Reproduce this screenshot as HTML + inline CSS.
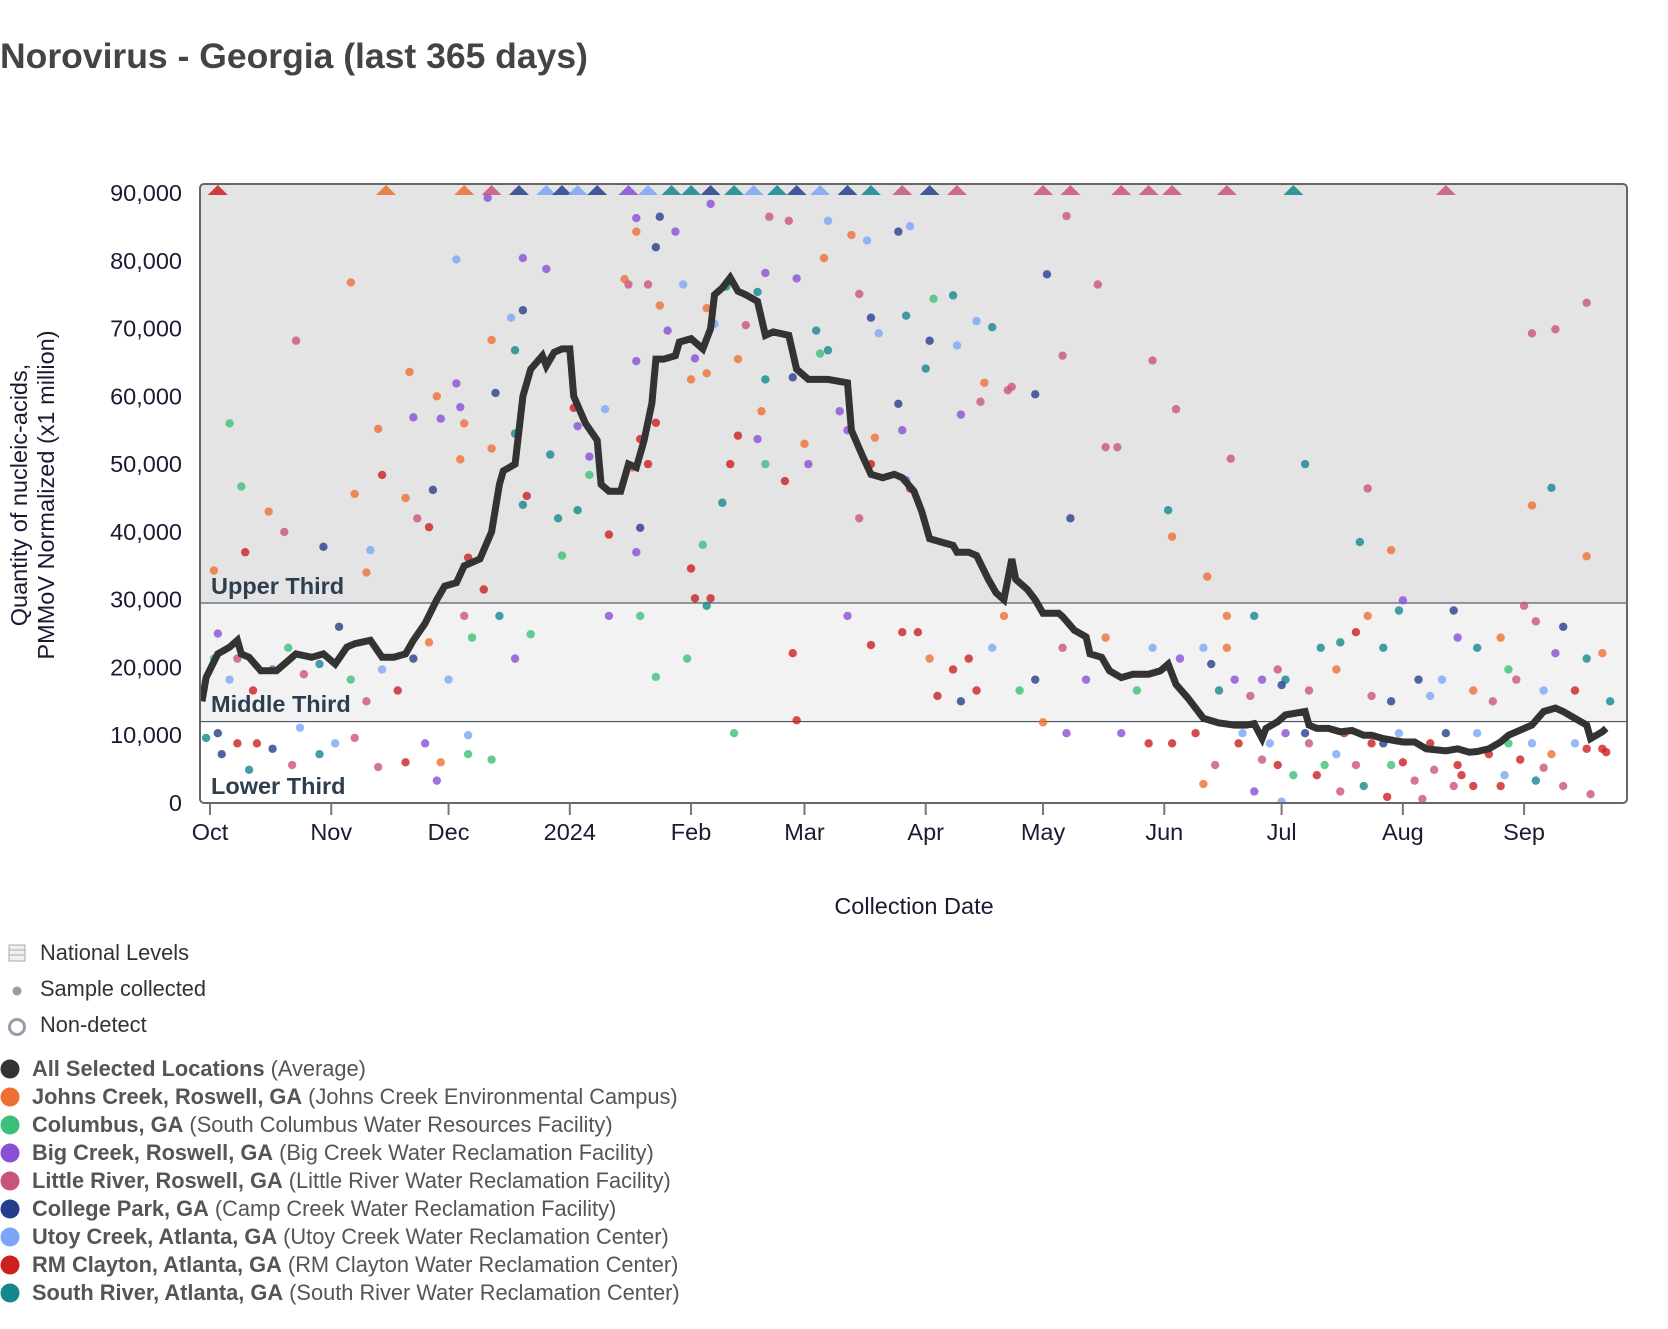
<!DOCTYPE html>
<html><head><meta charset="utf-8"><style>
body{margin:0;background:#fff;width:1668px;height:1324px;overflow:hidden;font-family:"Liberation Sans",sans-serif}
</style></head><body>
<svg id="chart" width="1668" height="1324" xmlns="http://www.w3.org/2000/svg" font-family="Liberation Sans, sans-serif">
<text x="0" y="68" font-size="35.5" font-weight="bold" fill="#444">Norovirus - Georgia (last 365 days)</text>
<g id="plot"></g>
<text transform="translate(27,495) rotate(-90)" font-size="23.5" fill="#1a1a33" text-anchor="middle"><tspan x="0" dy="0">Quantity of nucleic-acids,</tspan><tspan x="0" dy="27">PMMoV Normalized (x1 million)</tspan></text>
<text x="914" y="914" font-size="23.5" fill="#1a1a33" text-anchor="middle">Collection Date</text>
<g id="legend"></g>
</svg>
<script>
const NS='http://www.w3.org/2000/svg';
const siteNames=['Johns Creek, Roswell, GA','Columbus, GA','Big Creek, Roswell, GA','Little River, Roswell, GA','College Park, GA','Utoy Creek, Atlanta, GA','RM Clayton, Atlanta, GA','South River, Atlanta, GA'];
const siteFacilities=['Johns Creek Environmental Campus','South Columbus Water Resources Facility','Big Creek Water Reclamation Facility','Little River Water Reclamation Facility','Camp Creek Water Reclamation Facility','Utoy Creek Water Reclamation Center','RM Clayton Water Reclamation Center','South River Water Reclamation Center'];
const siteColors=['#ec6f34','#3cbf7a','#8a4fd6','#c9547a','#263f8c','#7ba6f7','#cc1f1f','#14878e'];
const yTicks=[0,10000,20000,30000,40000,50000,60000,70000,80000,90000];
const yTickLabels=['0','10,000','20,000','30,000','40,000','50,000','60,000','70,000','80,000','90,000'];
const xTickDays=[0,31,61,92,123,152,183,213,244,274,305,336];
const xTickLabels=['Oct','Nov','Dec','2024','Feb','Mar','Apr','May','Jun','Jul','Aug','Sep'];
const upperThreshold=29500, lowerThreshold=12000;
const avgDay=[-3,-1,2,5,7,8,10,13,17,20,22,26,29,32,35,37,41,44,47,50,52,55,58,60,63,65,67,69,72,74,75,78,80,82,85,86,88,90,92,93,96,99,100,102,105,107,109,111,113,114,116,119,120,123,126,128,129,131,133,135,137,140,142,144,148,150,153,156,158,163,164,167,169,172,175,177,180,182,184,187,190,191,194,196,199,201,203,205,206,209,211,213,217,218,221,224,225,228,230,233,236,240,243,245,247,250,252,254,258,262,265,267,269,270,273,275,280,281,283,286,289,292,295,297,300,305,308,311,316,319,322,324,327,330,332,336,338,341,344,346,349,352,353,356,357];
const avgVal=[15000,18500,22000,23000,24000,22000,21500,19500,19500,21000,22000,21500,22000,20500,23000,23500,24000,21500,21500,22000,24000,26500,30000,32000,32500,35000,35500,36000,40000,47000,49000,50000,60000,64000,66000,64500,66500,67000,67000,60000,56000,53500,47000,46000,46000,50000,49500,53500,59000,65500,65500,66000,68000,68500,67000,70000,75000,76000,77500,75500,75000,74000,69000,69500,69000,64000,62500,62500,62500,62000,55000,51000,48500,48000,48500,48000,46000,43000,39000,38500,38000,37000,37000,36500,33000,31000,30000,36000,33000,31500,30000,28000,28000,27500,25500,24500,22000,21500,19500,18500,19000,19000,19500,20500,17500,15500,14000,12500,11800,11500,11500,11700,9500,11000,12000,13000,13500,11500,11000,11000,10500,10700,10000,10000,9500,9000,9000,8000,7700,8000,7500,7600,8000,9000,10000,11000,11500,13500,14000,13500,12500,11500,9500,10500,11000];
const sampleDay=[5,8,1,2,9,22,15,19,29,36,43,44,37,40,41,51,52,50,58,57,59,56,53,63,64,64,65,66,63,71,73,72,72,80,77,80,78,78,80,81,86,93,94,97,94,101,109,109,112,106,107,109,115,114,115,119,121,128,127,124,127,129,132,135,137,140,142,143,148,150,157,158,164,168,169,171,166,155,158,156,149,142,141,140,135,133,131,123,117,114,112,110,108,97,87,89,90,102,109,110,123,124,128,126,142,152,153,147,161,163,166,169,170,176,177,178,179,176,185,184,183,178,179,190,191,196,200,198,197,192,204,211,205,214,219,227,218,229,232,241,247,261,280,296,294,302,305,338,344,352,352,343,338,245,246,255,220,
-1,2,3,7,10,12,16,21,23,28,32,37,43,50,55,59,66,72,66,58,
1,5,7,11,16,20,24,28,33,36,40,44,48,52,56,61,65,67,70,74,78,82,
102,110,114,122,127,134,150,149,163,169,177,181,184,186,190,192,194,196,200,203,207,211,213,218,219,224,229,233,237,240,241,246,248,252,254,257,258,260,
263,264,267,269,271,273,274,275,277,280,281,283,285,288,289,290,293,295,297,300,301,302,304,305,308,310,312,313,316,318,319,320,323,324,327,330,331,332,335,338,339,341,343,346,349,352,353,356,357,
262,266,269,273,275,281,284,288,289,293,296,297,300,302,304,309,312,315,318,319,323,324,328,330,332,334,336,339,341,344,346,349,352,356,358,254,256,260,267,274];
const sampleVal=[56000,46700,34300,25000,37000,68200,43000,40000,37800,76800,55200,48400,45600,34000,37300,63600,56900,45000,60000,46200,56700,40700,42000,80200,50700,58400,56000,36200,61900,89300,60500,52300,68300,80400,71600,72700,66800,54500,44000,45300,78800,58300,55600,51100,43200,58100,86300,84300,76500,77300,76500,65200,86500,82000,73400,84300,76500,88400,73000,65600,63400,70700,76200,65500,70500,75400,78200,86500,85900,77400,80400,85900,83800,83000,71600,69300,75100,69700,66800,66300,62800,62500,57800,53700,54200,50000,44300,62500,69700,56100,50000,53700,49500,48400,51400,42000,36500,39600,37000,40600,34600,30200,30200,38100,50000,53000,50000,47500,57800,55000,42000,50000,53900,58900,55000,71900,85100,84300,74400,68200,64100,47600,46400,74900,67500,71100,70200,62000,59200,57300,60900,60300,61400,78000,86600,76500,66000,52500,52500,65300,58100,50800,50000,46400,38500,37300,29900,69300,69900,73800,36400,46500,43900,43200,39300,33400,42000,
9600,10300,7200,8800,4900,8800,8000,5600,11100,7200,8800,9600,5300,6000,8800,6000,7200,6400,10000,3300,
21300,18200,21300,16600,19700,22900,19000,20500,26000,18200,15000,19700,16600,21300,23700,18200,27600,24400,31500,27600,21300,24900,
27600,27600,18600,21300,29100,10300,12200,22100,27600,23300,25200,25200,21300,15800,19700,15000,21300,16600,22900,27600,16600,18200,11900,22900,10300,18200,24400,10300,16600,8800,22900,8800,21300,10300,2800,5600,16600,22900,
8800,10300,1700,6400,8800,5600,200,10300,4100,10300,8800,4100,5600,7200,1700,10300,5600,2500,8800,8800,900,5600,10300,6000,3300,600,8800,4900,10300,2500,5600,4100,2500,10300,7200,2500,4100,8800,6400,8800,3300,5200,7200,2500,8800,8000,1300,8000,7500,
18200,15800,18200,19700,18200,16600,22900,19700,23700,25200,27600,15800,22900,15000,28400,18200,15800,18200,28400,24400,16600,22900,15000,24400,19700,18200,29100,26800,16600,22100,26000,16600,21300,22100,15000,22900,20500,27600,27600,17400];
const sampleSite=[1,1,0,2,6,3,0,3,4,0,0,6,0,0,5,0,2,0,0,4,2,6,3,5,0,2,0,6,2,2,4,0,0,2,5,4,7,7,7,6,2,6,2,2,7,5,2,0,3,0,3,2,4,4,0,2,5,2,0,2,0,5,7,0,3,7,2,3,3,2,0,5,0,5,4,5,3,7,7,1,4,7,0,2,6,6,7,0,2,6,6,6,0,1,7,7,1,6,2,4,6,6,6,1,1,0,2,6,2,2,3,6,0,4,2,7,5,4,1,4,7,2,6,7,5,5,7,0,3,2,3,4,3,4,3,3,3,3,3,3,3,3,7,3,7,0,2,3,3,3,0,7,0,7,0,0,4,
7,4,4,6,7,6,4,3,5,7,5,3,3,6,2,0,1,1,5,2,
1,5,3,6,2,1,3,7,4,1,3,5,6,4,0,5,3,1,6,7,2,1,
2,1,1,1,7,1,6,6,2,6,6,6,0,6,6,4,6,6,5,0,1,4,0,3,2,2,0,2,1,6,5,6,2,6,0,3,7,0,
6,5,2,3,5,6,5,2,1,4,3,6,1,5,3,6,3,7,6,4,6,1,5,6,3,3,6,3,4,3,6,6,6,5,6,6,5,1,6,5,7,3,0,3,5,6,3,6,6,
2,3,2,3,7,3,7,0,7,6,0,3,7,4,7,4,5,5,4,2,0,7,3,0,1,3,3,3,5,2,4,6,7,0,7,5,4,0,7,4];
const aboveDay=[2,45,65,72,79,86,90,94,99,107,112,118,123,128,134,139,145,150,156,163,169,177,184,191,213,220,233,240,246,260,277,316];
const aboveSite=[6,0,0,3,4,5,4,5,4,2,5,7,7,4,7,5,7,4,5,4,7,3,4,3,3,3,3,3,3,3,7,3];

const L=200,R=1627,T=184,B=803;
const yTopPx=193;
function y(v){return B-v/90000*(B-yTopPx);}
function x(d){return 210+d*3.911;}
function el(tag,attrs,parent){const e=document.createElementNS(NS,tag);for(const k in attrs)e.setAttribute(k,attrs[k]);parent.appendChild(e);return e;}
const plot=document.getElementById('plot');
const clip=el('clipPath',{id:'pc'},plot);el('rect',{x:L,y:T,width:R-L,height:B-T,rx:4},clip);
let r;
r=el('rect',{x:L,y:T,width:R-L,height:y(upperThreshold)-T,fill:'#e4e4e4'},plot);


r=el('rect',{x:L,y:y(upperThreshold),width:R-L,height:y(lowerThreshold)-y(upperThreshold),fill:'#f2f2f2'},plot);


el('line',{x1:L,x2:R,y1:y(upperThreshold),y2:y(upperThreshold),stroke:'#2d3e50','stroke-width':1},plot);
el('line',{x1:L,x2:R,y1:y(lowerThreshold),y2:y(lowerThreshold),stroke:'#2d3e50','stroke-width':1},plot);
[['Upper Third',594],['Middle Third',712],['Lower Third',794]].forEach(function(a){
  const t=el('text',{x:211,y:a[1],'font-size':23.5,'font-weight':'bold',fill:'#2d3e50'},plot);t.textContent=a[0];
  
  
});
const dots=el('g',{'clip-path':'url(#pc)'},plot);
for(let i=0;i<sampleDay.length;i++){
  const c=el('circle',{cx:x(sampleDay[i]),cy:y(sampleVal[i]),r:4.2,fill:siteColors[sampleSite[i]],'fill-opacity':0.8},dots);
  
  
}
for(let i=0;i<aboveDay.length;i++){
  const cx=x(aboveDay[i]);
  const p=el('polygon',{points:(cx-10)+','+(T+11)+' '+(cx+10)+','+(T+11)+' '+cx+','+(T+1),fill:siteColors[aboveSite[i]],'fill-opacity':0.85},dots);
  
  
}
let d='';
for(let i=0;i<avgDay.length;i++){d+=(i?'L':'M')+Math.max(L+2,x(avgDay[i])).toFixed(1)+','+y(avgVal[i]).toFixed(1);}
const ln=el('path',{d:d,fill:'none',stroke:'#333','stroke-width':7,'stroke-linejoin':'miter'},dots);


el('rect',{x:L,y:T,width:R-L,height:B-T,rx:4,fill:'none',stroke:'#666','stroke-width':2},plot);
for(let i=0;i<yTicks.length;i++){
  const t=el('text',{x:182,y:y(yTicks[i])+8,'font-size':23.5,fill:'#1a1a33','text-anchor':'end'},plot);t.textContent=yTickLabels[i];
  
  
}
for(let i=0;i<xTickDays.length;i++){
  const xx=x(xTickDays[i]);
  el('line',{x1:xx,x2:xx,y1:B,y2:B+12,stroke:'#777','stroke-width':2},plot);
  const t=el('text',{x:xx,y:840,'font-size':23.5,fill:'#1a1a33','text-anchor':'middle'},plot);t.textContent=xTickLabels[i];
  
  
}
const lg=document.getElementById('legend');
const ic=el('g',{},lg);


el('rect',{x:9,y:945,width:16,height:16,fill:'#f0f0f0',stroke:'#aaa'},ic);
el('line',{x1:9,x2:25,y1:950,y2:950,stroke:'#aaa'},ic);el('line',{x1:9,x2:25,y1:955,y2:955,stroke:'#aaa'},ic);
el('circle',{cx:17,cy:991,r:4.5,fill:'#9a9aaa'},lg);
el('circle',{cx:17,cy:1027,r:7.5,fill:'none',stroke:'#9a9aaa','stroke-width':3},lg);
[['National Levels',960],['Sample collected',996],['Non-detect',1032]].forEach(function(a){
  const t=el('text',{x:40,y:a[1],'font-size':21.8,fill:'#333'},lg);t.textContent=a[0];
  
  
});
const names=['All Selected Locations'].concat(siteNames);
const facs=['Average'].concat(siteFacilities);
const cols=['#333'].concat(siteColors);
for(let i=0;i<names.length;i++){
  const yy=1069+i*28;
  el('circle',{cx:10,cy:yy,r:9.5,fill:cols[i]},lg);
  const t=el('text',{x:32,y:yy+7,'font-size':21.8,fill:'#555'},lg);
  
  
  const b=el('tspan',{'font-weight':'bold'},t);b.textContent=names[i];
  const n=el('tspan',{},t);n.textContent=' ('+facs[i]+')';
}
</script>
</body></html>
